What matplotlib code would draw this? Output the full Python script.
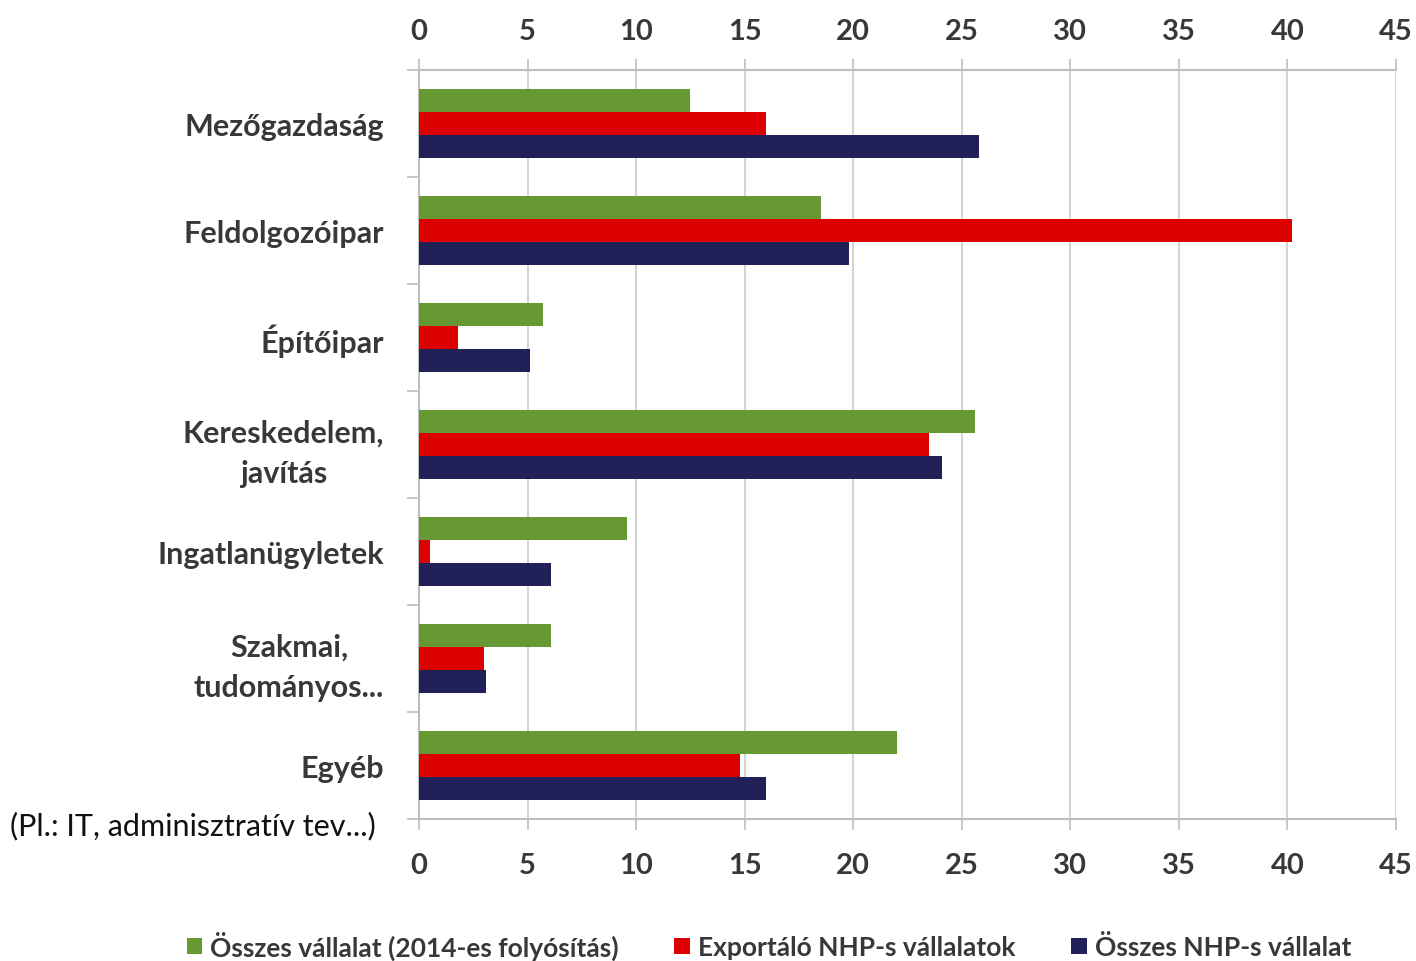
import matplotlib
matplotlib.use("Agg")
import matplotlib.pyplot as plt
from matplotlib.patches import Patch
import numpy as np

categories = ["Mezőgazdaság", "Feldolgozóipar", "Építőipar", "Kereskedelem,\njavítás",
              "Ingatlanügyletek", "Szakmai,\ntudományos...", "Egyéb"]
series_names = ["Összes vállalat (2014-es folyósítás)", "Exportáló NHP-s vállalatok", "Összes NHP-s vállalat"]
osszes_vallalat = [12.5, 18.5, 5.7, 25.6, 9.6, 6.1, 22.0]
exportalo_nhp = [16.0, 40.2, 1.8, 23.5, 0.5, 3.0, 14.8]
osszes_nhp = [25.8, 19.8, 5.1, 24.1, 6.1, 3.1, 16.0]
x_ticks = [0, 5, 10, 15, 20, 25, 30, 35, 40, 45]
note = "(Pl.: IT, adminisztratív tev...)"

colors = ["#669933", "#DD0000", "#222058"]
font = ["Lato", "DejaVu Sans"]
plt.rcParams['font.family'] = font

W, H = 1416, 962
fig = plt.figure(figsize=(W / 100, H / 100), dpi=100)
ax = fig.add_axes([419 / W, 1 - 820 / H, (1396 - 419) / W, (820 - 71) / H])

y = np.arange(len(categories))
h = 0.215
for i, (vals, c) in enumerate(zip([osszes_vallalat, exportalo_nhp, osszes_nhp], colors)):
    ax.barh(y + (i - 1) * h, vals, height=h, color=c, zorder=3)

ax.set_xlim(0, 45)
ax.set_ylim(len(categories) - 0.5, -0.5)
ax.set_xticks(x_ticks)
ax.xaxis.grid(True, color="#d4d4d4", linewidth=1.5, zorder=0)
ax.tick_params(axis="x", which="major", top=False, bottom=True, labeltop=False, labelbottom=True,
               length=8, width=1.2, color="#bfbfbf", pad=16, labelsize=21, labelcolor="#383838")
for lab in ax.get_xticklabels():
    lab.set_fontweight("bold")

sec = ax.secondary_xaxis("top")
sec.set_xticks(x_ticks)
sec.tick_params(axis="x", length=8, width=1.2, color="#bfbfbf", pad=11, labelsize=21,
                labelcolor="#383838")
for lab in sec.get_xticklabels():
    lab.set_fontweight("bold")
sec.spines["top"].set_color("#bfbfbf")
sec.spines["top"].set_linewidth(1.5)

ax.set_yticks(y)
ax.set_yticklabels(categories, fontsize=22, fontweight="bold", color="#383838", ha="right",
                   multialignment="center", linespacing=1.5)
ax.set_yticks(np.arange(-0.5, len(categories) + 0.5, 1), minor=True)
ax.tick_params(axis="y", which="major", length=0, pad=25)
ax.tick_params(axis="y", which="minor", length=9, width=1.2, color="#bfbfbf")

for s in ["right"]:
    ax.spines[s].set_visible(False)
for s in ["top", "bottom", "left"]:
    ax.spines[s].set_color("#bfbfbf")
    ax.spines[s].set_linewidth(1.5)

fig.text(10 / W, 1 - 826 / H, note, fontsize=22, color="#111111", va="center", ha="left")

handles = [Patch(facecolor=c, edgecolor="none") for c in colors]
fig.legend(handles, series_names, loc="center", bbox_to_anchor=(0.543, 1 - 946 / H), ncol=3,
           frameon=False, handlelength=0.6, handleheight=0.6, handletextpad=0.3,
           columnspacing=2.1, labelcolor="#383838", prop={"weight": "bold", "size": 19})

fig.savefig("out.png", dpi=100)
